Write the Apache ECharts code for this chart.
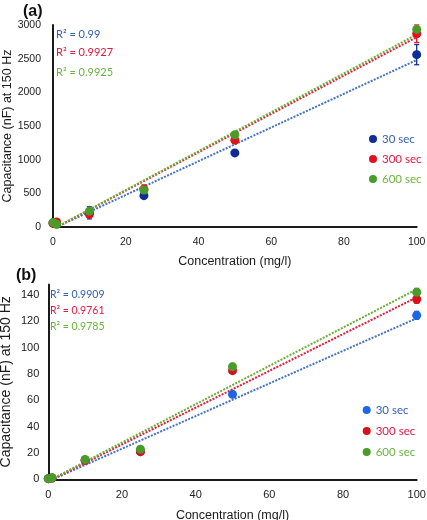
<!DOCTYPE html>
<html>
<head>
<meta charset="utf-8">
<script src="https://cdn.jsdelivr.net/npm/echarts@6/dist/echarts.min.js"></script>
<style>
html,body{margin:0;padding:0;background:#fff;}
#c{width:427px;height:520px;}
</style>
</head>
<body>
<div id="c"></div>
<script>
// ---- data ----
var seriesNames = ['30 sec', '300 sec', '600 sec'];
var xVals = [0, 1, 10, 25, 50, 100];
var xTicks = [0, 20, 40, 60, 80, 100];

// panel (a)
var a30  = [62, 45, 210, 465, 1100, 2560];
var a300 = [55, 75, 190, 560, 1290, 2870];
var a600 = [65, 40, 235, 550, 1370, 2935];
var a30Err  = [10, 10, 90, 40, 40, 150];
var a300Err = [10, 10, 30, 65, 45, 130];
var a600Err = [10, 10, 20, 30, 35, 40];
var aTrendX = [0, 100];
var aTrend30  = [-25, 2480];
var aTrend300 = [-30, 2820];
var aTrend600 = [-30, 2860];
var aR2 = ['R\u00b2 = 0.99', 'R\u00b2 = 0.9927', 'R\u00b2 = 0.9925'];

// panel (b)
var b30  = [0.5, 1, 14.5, 21, 64.5, 124.5];
var b300 = [0.5, 1, 14.5, 21, 82.5, 136.7];
var b600 = [0.5, 1.2, 15, 22.8, 85.5, 142];
var b30Err  = [0.3, 0.3, 1, 1.2, 2, 3];
var b300Err = [0.3, 0.3, 1, 1.2, 2, 3];
var b600Err = [0.3, 0.3, 1, 1.2, 2.5, 3];
var bTrendX = [0, 100];
var bTrend30  = [-1.5, 122.3];
var bTrend300 = [-1.5, 138.2];
var bTrend600 = [-1.2, 144.3];
var bR2 = ['R\u00b2 = 0.9909', 'R\u00b2 = 0.9761', 'R\u00b2 = 0.9785'];

// ---- styles ----
var markA = ['#0f2d96', '#e3101e', '#4a9c2a'];
var markB = ['#1f66e6', '#d9101c', '#4a9c2a'];
var lineCol = ['#4472c4', '#e8193d', '#6aad35'];
var textCol = ['#3560b4', '#e5173f', '#6ab33f'];

function pts(xs, ys){ return xs.map(function(x,i){ return [x, ys[i]]; }); }
function errPts(xs, ys, es){ return xs.map(function(x,i){ return [x, ys[i]-es[i], ys[i]+es[i]]; }); }

function errSeries(xi, data, color){
  return {
    type: 'custom', xAxisIndex: xi, yAxisIndex: xi, silent: true, z: 2,
    data: data,
    renderItem: function(params, api){
      var x = api.value(0);
      var lo = api.coord([x, api.value(1)]);
      var hi = api.coord([x, api.value(2)]);
      var w = 2.5;
      var st = {stroke: color, lineWidth: 1.3};
      return {type:'group', children:[
        {type:'line', shape:{x1:lo[0],y1:lo[1],x2:hi[0],y2:hi[1]}, style:st},
        {type:'line', shape:{x1:lo[0]-w,y1:lo[1],x2:lo[0]+w,y2:lo[1]}, style:st},
        {type:'line', shape:{x1:hi[0]-w,y1:hi[1],x2:hi[0]+w,y2:hi[1]}, style:st}
      ]};
    }
  };
}
function trendSeries(xi, xs, ys, color){
  return {
    type:'line', xAxisIndex: xi, yAxisIndex: xi, data: pts(xs, ys), symbol:'none',
    silent: true, clip: true, z: 1,
    lineStyle:{color: color, width: 2, type:[2, 1.4]}
  };
}
function scatterSeries(xi, name, ys, color){
  return {
    type:'scatter', name: name, xAxisIndex: xi, yAxisIndex: xi, data: pts(xVals, ys),
    symbol:'circle', symbolSize: 9, itemStyle:{color: color, opacity: 1}, z: 3
  };
}

var labelFont = 'Liberation Sans, Arial, sans-serif';
var annFont = 'Lato, Open Sans, sans-serif';

function xAxisDef(gi, gap){
  return {
    type:'value', gridIndex: gi, min: 0, max: 100, interval: 20,
    name: 'Concentration (mg/l)', nameLocation:'middle', nameGap: gap, nameMoveOverlap: false,
    nameTextStyle:{fontFamily: labelFont, fontSize: 12.5, color:'#1a1a1a'},
    axisLine:{lineStyle:{color:'#1a1a1a', width:2}},
    axisTick:{show:false}, splitLine:{show:false},
    axisLabel:{fontFamily: labelFont, fontSize: gi===0?10.5:11, color:'#222', margin: 10}
  };
}
function yAxisDef(gi, max, interval, gap, margin, fs, nfs){
  return {
    type:'value', gridIndex: gi, min: 0, max: max, interval: interval,
    name: 'Capacitance (nF) at 150 Hz', nameLocation:'middle', nameGap: gap, nameRotate: 90,
    nameMoveOverlap: false,
    nameTextStyle:{fontFamily: labelFont, fontSize: nfs, color:'#1a1a1a'},
    axisLine:{show:true, lineStyle:{color:'#1a1a1a', width:2}},
    axisTick:{show:false}, splitLine:{show:false},
    axisLabel:{fontFamily: labelFont, fontSize: fs, color:'#222', margin: margin,
      showMaxLabel: max % interval === 0,
      formatter: function(v){ return String(v); }}
  };
}

var series = [];
var aSets = [[a30,a30Err,aTrend30],[a300,a300Err,aTrend300],[a600,a600Err,aTrend600]];
var bSets = [[b30,b30Err,bTrend30],[b300,b300Err,bTrend300],[b600,b600Err,bTrend600]];
aSets.forEach(function(s,i){ series.push(trendSeries(0, aTrendX, s[2], lineCol[i])); });
bSets.forEach(function(s,i){ series.push(trendSeries(1, bTrendX, s[2], lineCol[i])); });
aSets.forEach(function(s,i){
  series.push(errSeries(0, errPts(xVals, s[0], s[1]), markA[i]));
  series.push(scatterSeries(0, seriesNames[i], s[0], markA[i]));
});
bSets.forEach(function(s,i){
  series.push(errSeries(1, errPts(xVals, s[0], s[1]), markB[i]));
  series.push(scatterSeries(1, seriesNames[i], s[0], markB[i]));
});

function legendDef(left, top, gap, cols){
  return {
    orient:'vertical', left: left, top: top, itemWidth: 8, itemHeight: 8, itemGap: gap,
    icon:'circle', selectedMode: false,
    data: seriesNames.map(function(n,i){
      return {name:n, itemStyle:{color: cols[i]}, textStyle:{color: textCol[i]}};
    }),
    textStyle:{fontFamily: annFont, fontSize: 11.5}
  };
}

var graphics = [];
function addR2(texts, x, ys, fs){
  texts.forEach(function(t,i){
    graphics.push({type:'text', left: x, top: ys[i], style:{text: t, fill: textCol[i], font: fs + 'px ' + annFont}});
  });
}
addR2(aR2, 56, [29, 47, 67], 11);
addR2(bR2, 50, [289, 305, 321], 10.5);

var option = {
  animation: false,
  backgroundColor: '#fff',
  title: [
    {text:'(a)', left: 18, top: -1, textStyle:{fontFamily: labelFont, fontSize: 16, fontWeight:'bold', color:'#111'}},
    {text:'(b)', left: 11, top: 263, textStyle:{fontFamily: labelFont, fontSize: 16, fontWeight:'bold', color:'#111'}}
  ],
  grid: [
    {left: 53, top: 25, width: 363.7, height: 202, containLabel: false, outerBoundsMode: 'none'},
    {left: 48.3, top: 284.4, width: 368.4, height: 194.9, containLabel: false, outerBoundsMode: 'none'}
  ],
  xAxis: [xAxisDef(0, 28), xAxisDef(1, 29.5)],
  yAxis: [yAxisDef(0, 3000, 500, 39, 12, 10.5, 12.5), yAxisDef(1, 148, 20, 35, 9, 11, 14)],
  legend: [legendDef(364, 128, 8, markA), legendDef(357.7, 399, 9, markB)],
  graphic: graphics,
  series: series
};
var chart = echarts.init(document.getElementById('c'), null, {renderer:'canvas'});
chart.setOption(option);
</script>
</body>
</html>
